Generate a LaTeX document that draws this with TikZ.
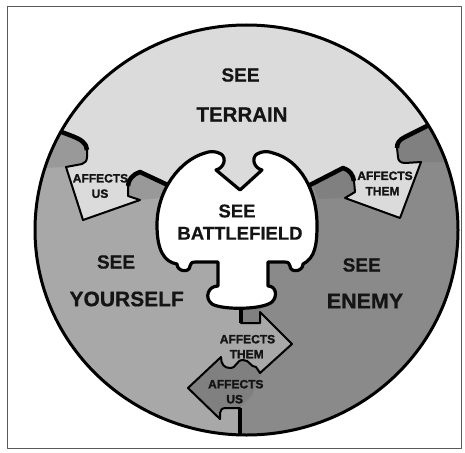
\documentclass[tikz,border=0pt]{standalone}
\usepackage{fontspec}
\setmainfont{Liberation Sans}
\newfontfamily\bigfont{Liberation Sans Bold}[FakeBold=0.6]
\newfontfamily\smlfont{Liberation Sans Bold}[FakeBold=1.6]
\begin{document}
\begin{tikzpicture}[x=1pt,y=-1pt,line join=round,line cap=round]
\definecolor{terr}{gray}{0.86}
\definecolor{your}{gray}{0.66}
\definecolor{yknob}{gray}{0.6}
\definecolor{enem}{gray}{0.54}
\definecolor{eknob}{gray}{0.5}
\definecolor{ink}{gray}{0.08}
\tikzset{
  bnd/.style={draw=black,line width=2pt},
  thickb/.style={draw=black,line width=4.5pt,line cap=butt},
  big/.style={font=\bigfont\fontsize{#1}{#1}\selectfont,text=ink,inner sep=0pt},
  sml/.style={font=\smlfont\fontsize{12}{12}\selectfont,text=ink,inner sep=0pt},
}
\useasboundingbox (0,0) rectangle (465,452);
\draw[gray!70!black,line width=0.9pt] (7,6) rectangle (461,448);
\def\leftb{(45,125) -- (59,131) -- (72,136) .. controls (80,139) and (87,143) .. (87,150) -- (87,157) .. controls (87,161) and (85,163) .. (82,164) -- (66,167) -- (83,220) -- (140,200) -- (128,196) -- (128,186) .. controls (128,180) and (133,174) .. (140,172) -- (172,187)}
\def\rightb{(441,119) -- (427,126) -- (405,137) .. controls (399,140) and (397,143) .. (397,148) -- (398,157) .. controls (398,161) and (401,163) .. (405,163) -- (421,162) -- (400,218) -- (345,198) -- (355,192) -- (354,181) .. controls (353,175) and (350,170) .. (343,168) -- (308,186)}
\def\bottomb{(241,300) -- (241,323) -- (260,323) -- (260,312) -- (292,344) -- (260,373) -- (256,367) .. controls (250,367) and (250,360) .. (243,360) .. controls (236,360) and (237,368) .. (230,368) .. controls (224,368) and (221,364) .. (221,357) -- (188,388) -- (220,419) -- (220,413) .. controls (220,410) and (222,408) .. (226,408) -- (240,408) -- (240,448)}
\begin{scope}
\clip (246.5,230) ellipse [x radius=211.5pt, y radius=205pt];
\fill[your] (0,0) rectangle (465,452);
\fill[terr] \leftb -- (240,230) -- (240,-10) -- (-10,-10) -- (-10,120) -- cycle;
\fill[terr] \rightb -- (240,230) -- (240,-10) -- (480,-10) -- (480,110) -- cycle;
\fill[enem] \rightb -- (240,240) -- \bottomb -- (480,470) -- (480,110) -- cycle;
% slightly darker puzzle tabs
\fill[yknob] (40,122) -- (59,131) -- (72,136) .. controls (80,139) and (87,143) .. (87,150) -- (87,157) .. controls (87,161) and (85,163) .. (82,164) -- (66,167) -- (40,168) -- cycle;
\fill[yknob] (140,200) -- (128,196) -- (128,186) .. controls (128,180) and (133,174) .. (140,172) -- (166,183) -- (160,198) -- cycle;
\fill[eknob] (441,119) -- (427,126) -- (405,137) .. controls (399,140) and (397,143) .. (397,148) -- (398,157) .. controls (398,161) and (401,163) .. (405,163) -- (421,162) -- (455,162) -- cycle;
\fill[eknob] (345,198) -- (355,192) -- (354,181) .. controls (353,175) and (350,170) .. (343,168) -- (313,184) -- (318,199) -- cycle;
\fill[eknob] (241,300) -- (241,323) -- (260,323) -- (260,300) -- cycle;
\fill[eknob] (256,367) .. controls (250,367) and (250,360) .. (243,360) .. controls (236,360) and (237,368) .. (230,368) .. controls (224,368) and (221,364) .. (221,357) -- (188,388) -- (220,419) -- (220,413) .. controls (220,410) and (222,408) .. (226,408) -- (240,408) -- (252,395) -- (262,372) -- cycle;
\draw[bnd] \leftb;
\draw[bnd] \rightb;
\draw[bnd] \bottomb;
\draw[thickb] (45,125) -- (59,131) -- (72,136) .. controls (80,139) and (87,143) .. (87,150);
\draw[thickb] (128,186) .. controls (128,180) and (133,174) .. (140,172) -- (172,187);
\draw[thickb] (441,119) -- (427,126) -- (405,137) .. controls (399,140) and (397,143) .. (397,148);
\draw[thickb] (354,181) .. controls (353,175) and (350,170) .. (343,168) -- (308,186);
\draw[thickb] (241,300) -- (241,323);
\draw[thickb] (240,408) -- (240,448);
\end{scope}
\draw[black,line width=3pt] (246.5,230) ellipse [x radius=211.5pt, y radius=205pt];
% central battlefield piece
\filldraw[fill=white,draw=black,line width=3.2pt]
 (240,190) -- (216,170) .. controls (224,168) and (227,158) .. (221,154)
 .. controls (216,151) and (210,151) .. (205,153)
 .. controls (180,160) and (157,190) .. (157,225)
 .. controls (157,250) and (164,262) .. (177,264)
 .. controls (177,272) and (190,273) .. (190,266)
 .. controls (190,263) and (192,262) .. (196,262) -- (218,262) -- (218,286)
 .. controls (208,286) and (204,298) .. (212,304)
 .. controls (222,310) and (262,310) .. (272,302)
 .. controls (278,296) and (276,286) .. (268,286) -- (268,262) -- (284,262)
 .. controls (288,262) and (290,263) .. (290,266)
 .. controls (290,273) and (303,272) .. (303,264)
 .. controls (315,258) and (317,245) .. (317,225)
 .. controls (317,190) and (300,160) .. (273,153)
 .. controls (268,151) and (262,151) .. (257,154)
 .. controls (251,158) and (254,168) .. (262,170) -- cycle;
% labels
\node[big=19] (t1) at (240.5,75) {SEE};
\node[big=20.5] (t2) at (242,114.5) {TERRAIN};
\node[big=18.5] (c1) at (237,211) {SEE};
\node[big=18.5] (c2) at (240,233.3) {BATTLEFIELD};
\node[big=19] (y1) at (116,262) {SEE};
\node[big=21] (y2) at (126.7,299) {YOURSELF};
\node[big=19] (e1) at (361.7,265) {SEE};
\node[big=21.5] (e2) at (365,301) {ENEMY};
\node[sml] (a1) at (100.5,178.3) {AFFECTS};
\node[sml] (a2) at (100,193.7) {US};
\node[sml] (b1) at (385,175.8) {AFFECTS};
\node[sml] (b2) at (382.5,191.2) {THEM};
\node[sml] (d1) at (247.5,339.2) {AFFECTS};
\node[sml] (d2) at (246.7,354.2) {THEM};
\node[sml] (f1) at (235.8,384.2) {AFFECTS};
\node[sml] (f2) at (234.7,399.2) {US};
\end{tikzpicture}
\end{document}
